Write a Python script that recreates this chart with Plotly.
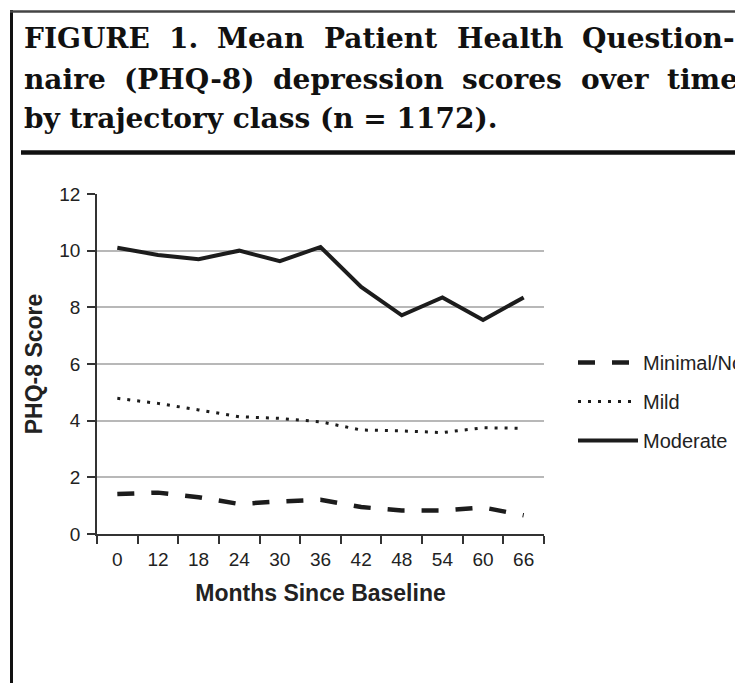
import glob
import struct
import plotly.graph_objects as go

# ---- data ----
months = ["0", "12", "18", "24", "30", "36", "42", "48", "54", "60", "66"]
minimal = [1.41, 1.46, 1.30, 1.06, 1.15, 1.21, 0.95, 0.83, 0.83, 0.94, 0.66]
mild = [4.79, 4.61, 4.38, 4.14, 4.08, 3.96, 3.67, 3.64, 3.58, 3.75, 3.73]
moderate = [10.10, 9.85, 9.70, 10.00, 9.63, 10.13, 8.72, 7.72, 8.35, 7.55, 8.35]
series_names = ["Minimal/None", "Mild", "Moderate"]
y_ticks = [0, 2, 4, 6, 8, 10, 12]
title_lines = ["FIGURE 1. Mean Patient Health Question-",
               "naire (PHQ-8) depression scores over time",
               "by trajectory class (n = 1172)."]

# page has an 8px body margin: work in page pixels, convert to figure pixels
OFF = 8
W, H = 743 - OFF, 683 - OFF
L, R, T, B = 97 - OFF, 544 - OFF, 194 - OFF, 534 - OFF

def px(x):
    return ((x - OFF) - L) / (R - L)

def py(y):
    return (B - (y - OFF)) / (B - T)


# ---- text width measurement from the installed font (for justified title lines) ----
def make_measurer():
    paths = glob.glob("/usr/share/fonts/**/DejaVuSerif-Bold.ttf", recursive=True)
    if not paths:
        return lambda s, size: len(s) * 0.64 * size
    with open(paths[0], "rb") as f:
        data = f.read()
    num = struct.unpack(">H", data[4:6])[0]
    tables = {}
    for i in range(num):
        tag, _, off, ln = struct.unpack(">4sIII", data[12 + 16 * i:28 + 16 * i])
        tables[tag.decode("latin1")] = off
    upem = struct.unpack(">H", data[tables["head"] + 18:tables["head"] + 20])[0]
    nhm = struct.unpack(">H", data[tables["hhea"] + 34:tables["hhea"] + 36])[0]
    hm = tables["hmtx"]
    adv = [struct.unpack(">H", data[hm + 4 * i:hm + 4 * i + 2])[0] for i in range(nhm)]
    cm = tables["cmap"]
    n = struct.unpack(">H", data[cm + 2:cm + 4])[0]
    sub = None
    for i in range(n):
        pid, eid, off = struct.unpack(">HHI", data[cm + 4 + 8 * i:cm + 12 + 8 * i])
        fmt = struct.unpack(">H", data[cm + off:cm + off + 2])[0]
        if fmt == 4:
            sub = cm + off
            break
    if sub is None:
        return lambda s, size: len(s) * 0.64 * size
    segx2 = struct.unpack(">H", data[sub + 6:sub + 8])[0]
    seg = segx2 // 2
    ends = struct.unpack(">%dH" % seg, data[sub + 14:sub + 14 + segx2])
    starts = struct.unpack(">%dH" % seg, data[sub + 16 + segx2:sub + 16 + 2 * segx2])
    deltas = struct.unpack(">%dh" % seg, data[sub + 16 + 2 * segx2:sub + 16 + 3 * segx2])
    rpos = sub + 16 + 3 * segx2
    roffs = struct.unpack(">%dH" % seg, data[rpos:rpos + segx2])

    def gid(c):
        for i in range(seg):
            if starts[i] <= c <= ends[i]:
                if roffs[i] == 0:
                    return (c + deltas[i]) & 0xFFFF
                p = rpos + 2 * i + roffs[i] + 2 * (c - starts[i])
                g = struct.unpack(">H", data[p:p + 2])[0]
                return (g + deltas[i]) & 0xFFFF if g else 0
        return 0

    def width(s, size):
        return sum(adv[min(gid(ord(ch)), nhm - 1)] for ch in s) * size / upem

    return width


measure = make_measurer()

ink = "#1c1c1c"
fig = go.Figure()
fig.add_trace(go.Scatter(x=months, y=minimal, mode="lines", name=series_names[0],
                         legendgroup="a",
                         line=dict(color=ink, width=4.5, dash="17px,17px")))
fig.add_trace(go.Scatter(x=months, y=mild, mode="lines", name=series_names[1],
                         legendgroup="b",
                         line=dict(color=ink, width=3, dash="3px,7px")))
fig.add_trace(go.Scatter(x=months, y=moderate, mode="lines", name=series_names[2],
                         legendgroup="c",
                         line=dict(color=ink, width=4)))

txt = "#222222"
sans = "Liberation Sans, Arial, sans-serif"
serif = "DejaVu Serif, serif"

fig.update_layout(
    width=W, height=H,
    margin=dict(l=L, r=W - R, t=T, b=H - B, autoexpand=False),
    paper_bgcolor="white", plot_bgcolor="white",
    showlegend=True,
    legend=dict(xref="container", yref="container", x=(573 - OFF) / W,
                y=1 - (343 - OFF) / H,
                xanchor="left", yanchor="top", traceorder="grouped",
                tracegroupgap=10, itemwidth=60,
                font=dict(family=sans, size=20, color=txt),
                bgcolor="rgba(0,0,0,0)"),
    xaxis=dict(type="category", categoryorder="array", categoryarray=months,
               range=[-0.5, len(months) - 0.5],
               tickson="boundaries", ticks="outside", ticklen=8, tickwidth=1.5,
               tickcolor="#333", showline=True, linecolor="#333", linewidth=1.5,
               showgrid=False, ticklabelstandoff=7,
               tickfont=dict(family=sans, size=19, color=txt),
               title=dict(text="<b>Months Since Baseline</b>", standoff=16,
                          font=dict(family=sans, size=23, color=txt))),
    yaxis=dict(range=[0, 12], tickvals=y_ticks, ticks="outside", ticklen=8,
               tickwidth=1.5, tickcolor="#333", showline=True, linecolor="#333",
               linewidth=1.5, showgrid=True, gridcolor="#b8b8b8", gridwidth=1.5,
               zeroline=False, ticklabelstandoff=3,
               tickfont=dict(family=sans, size=19, color=txt),
               title=dict(text="<b>PHQ-8 Score</b>", standoff=10,
                          font=dict(family=sans, size=23, color=txt))),
)

# ---- page frame ----
shapes = [
    dict(type="line", xref="paper", yref="paper", x0=px(11.5), x1=px(11.5),
         y0=py(10), y1=py(H + OFF + 5), line=dict(color="#111", width=3)),
    dict(type="line", xref="paper", yref="paper", x0=px(10), x1=px(W + OFF + 5),
         y0=py(11.5), y1=py(11.5), line=dict(color="#444", width=2.5)),
    dict(type="line", xref="paper", yref="paper", x0=px(21), x1=px(W + OFF + 5),
         y0=py(152.5), y1=py(152.5), line=dict(color="#111", width=4.5)),
]
fig.update_layout(shapes=shapes)

# ---- title: first two lines justified between left and right edges ----
TS = 28
ann = []
for text, yc, right in ((title_lines[0], 38.5, 735), (title_lines[1], 79, 738)):
    words = text.split(" ")
    widths = [measure(w, TS) for w in words]
    left = 24
    gap = (right - left - sum(widths)) / (len(words) - 1)
    xs = left
    for w, wd in zip(words, widths):
        ann.append(dict(text="<b>" + w + "</b>", xref="paper", yref="paper",
                        x=px(xs - 2), y=py(yc), xanchor="left", yanchor="middle",
                        showarrow=False, font=dict(family=serif, size=TS, color="#111")))
        xs += wd + gap
ann.append(dict(text="<b>" + title_lines[2] + "</b>", xref="paper", yref="paper",
                x=px(22), y=py(119), xanchor="left", yanchor="middle", showarrow=False,
                font=dict(family=serif, size=TS, color="#111")))
fig.update_layout(annotations=ann)

fig.write_html("out.html")
